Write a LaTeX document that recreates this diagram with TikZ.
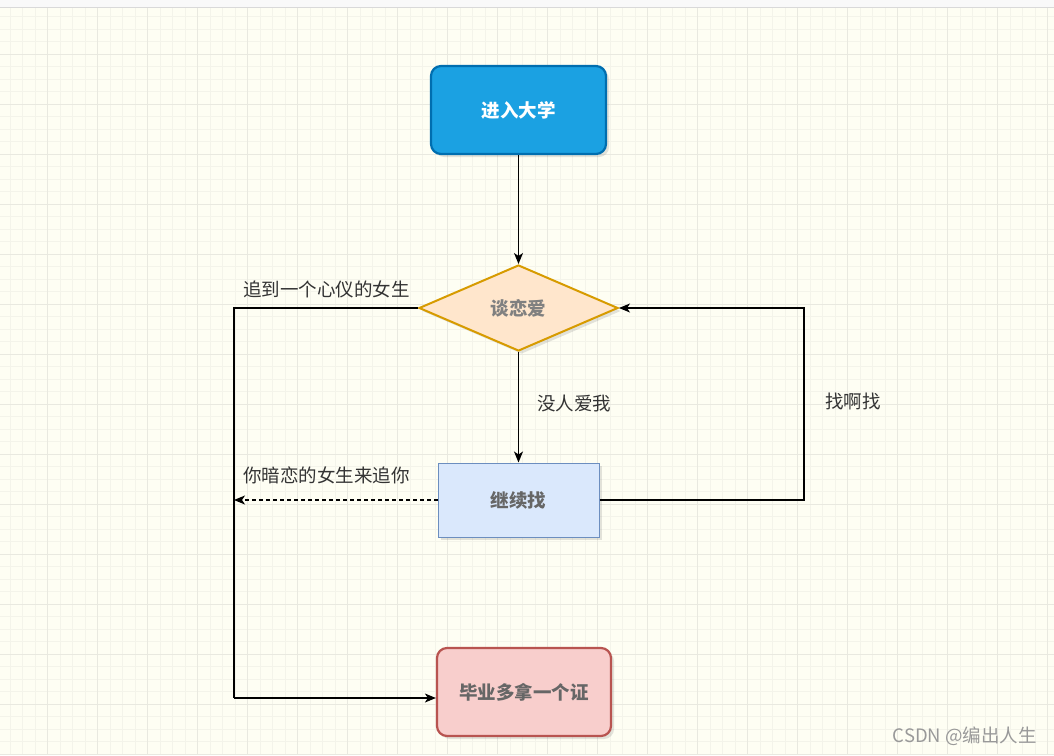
\documentclass[tikz,border=0pt]{standalone}
\usepackage{fontspec}
\setmainfont{Noto Sans CJK SC}
\usetikzlibrary{shapes.geometric, arrows.meta, shadows}
\definecolor{paper-bg}{HTML}{FEFEF3}
\definecolor{grid-minor}{HTML}{F4F4EA}
\definecolor{grid-major}{HTML}{E9E9E0}
\definecolor{top-band}{HTML}{F9F9F9}
\definecolor{start-fill}{HTML}{1BA1E2}
\definecolor{start-line}{HTML}{006EAF}
\definecolor{choice-fill}{HTML}{FFE6CC}
\definecolor{choice-line}{HTML}{D79B00}
\definecolor{search-fill}{HTML}{DAE8FC}
\definecolor{search-line}{HTML}{6C8EBF}
\definecolor{end-fill}{HTML}{F8CECC}
\definecolor{end-line}{HTML}{B85450}
\definecolor{label-gray}{HTML}{333333}
\definecolor{mark-gray}{HTML}{999999}

\tikzset{
  every node/.style={font=\fontsize{18.5}{22}\selectfont},
  boxshadow/.style={drop shadow={opacity=0.22, shadow xshift=3pt, shadow yshift=-3pt}},
  startbox/.style={draw=start-line, fill=start-fill, line width=2.2pt,
    rounded corners=10pt, minimum width=175pt, minimum height=88pt,
    text=white, font=\fontsize{18.5}{22}\selectfont\bfseries, boxshadow},
  choicebox/.style={diamond, draw=choice-line, fill=choice-fill, line width=2pt,
    inner sep=0pt, minimum width=199pt, minimum height=86pt,
    text=gray, font=\fontsize{18.5}{22}\selectfont\bfseries, boxshadow},
  searchbox/.style={draw=search-line, fill=search-fill, line width=1pt,
    minimum width=161pt, minimum height=74pt,
    text=black!60, font=\fontsize{18.5}{22}\selectfont\bfseries, boxshadow},
  endbox/.style={draw=end-line, fill=end-fill, line width=2.2pt,
    rounded corners=10pt, minimum width=174pt, minimum height=88pt,
    text=black!60, font=\fontsize{18.5}{22}\selectfont\bfseries, boxshadow},
  link/.style={line width=1.2pt, -{Stealth[length=11pt, width=9pt, inset=3pt]}},
  linklabel/.style={text=label-gray, inner sep=0pt}
}

\begin{document}
\begin{tikzpicture}[x=1pt, y=-1pt]
      \useasboundingbox (0,0) rectangle (1054,755);
      % paper and grid
      \fill[paper-bg] (0,0) rectangle (1054,755);
      \foreach \gx in {10.2,22.7,...,1054}
        \draw[grid-minor, line width=1pt] (\gx,7) -- (\gx,755);
      \foreach \gy in {16.8,29.3,...,755}
        \draw[grid-minor, line width=1pt] (0,\gy) -- (1054,\gy);
      \foreach \gx in {47.7,97.7,...,1054}
        \draw[grid-major, line width=1pt] (\gx,7) -- (\gx,755);
      \foreach \gy in {54.3,104.3,...,755}
        \draw[grid-major, line width=1pt] (0,\gy) -- (1054,\gy);
      \fill[top-band] (0,0) rectangle (1054,7);
      \draw[black!15, line width=1pt] (0,7) -- (1054,7);

      % flow nodes
      \node[startbox] (college) at (518.5,110) {进入大学};
      \node[choicebox] (dating) at (518.5,308) {谈恋爱};
      \node[searchbox] (search) at (518.5,500) {继续找};
      \node[endbox] (degree) at (524,692) {毕业多拿一个证};

      % helper points on the rails
      \coordinate (rail) at (234,698);
      \coordinate (meet) at (234,500);
      \coordinate (loop) at (804,400);

      % connectors
      \draw[link] (college.south) -- (dating.north);
      \draw[link] (dating.south) -- (search.north);
      \draw[link] (search.east) -| (loop) |- (dating.east);
      \draw[line width=1.2pt] (dating.west) -| (rail);
      \draw[link] (rail) -- (rail -| degree.west);
      \draw[link, dash pattern=on 4pt off 3pt] (search.west) -- (meet);

      % labels
      \node[linklabel, anchor=west] (nolove) at (537,404) {没人爱我};
      \node[linklabel, anchor=west] (catch) at (243,289) {追到一个心仪的女生};
      \node[linklabel, anchor=west] (crush) at (243,475) {你暗恋的女生来追你};
      \node[linklabel, anchor=west] (again) at (825,401) {找啊找};
      \node[text=mark-gray, anchor=east, inner sep=0pt] (mark) at (1037,736)
            {CSDN @编出人生};
    \end{tikzpicture}
\end{document}
